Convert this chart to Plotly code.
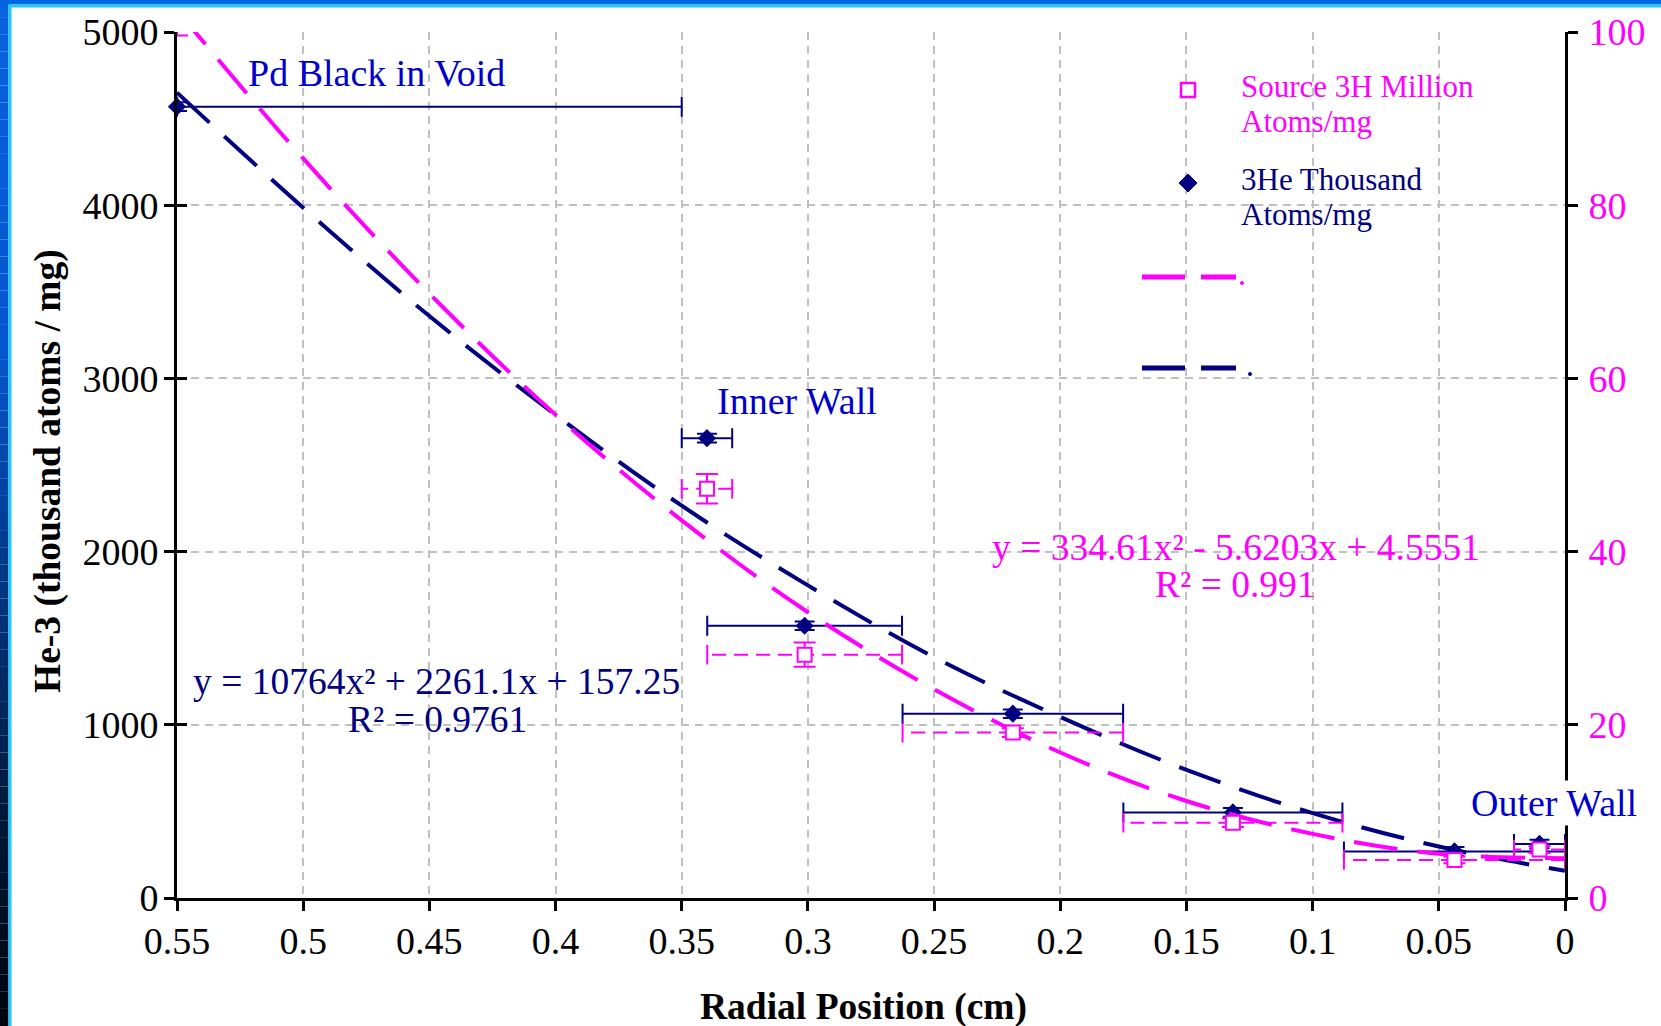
import plotly.graph_objects as go

# ---------------- data ----------------
# 3He, thousand atoms/mg (left axis)
he_x = [0.55, 0.34, 0.3013, 0.2188, 0.1316, 0.0438, 0.0101]
he_y = [4569, 2655, 1572, 1064, 494, 269, 312]
he_y_err = [25, 25, 25, 25, 25, 25, 25]
# horizontal extent of each sampling bin (same for both series)
bin_err_plus = [0.0, 0.0100, 0.0386, 0.0437, 0.0434, 0.0438, 0.0101]
bin_err_minus = [0.20, 0.0100, 0.0386, 0.0437, 0.0434, 0.0438, 0.0101]

# Source 3H, million atoms/mg (right axis)
h3_x = [0.55, 0.34, 0.3013, 0.2188, 0.1316, 0.0438, 0.0101]
h3_y = [101.3, 47.25, 28.1, 19.1, 8.7, 4.4, 5.6]
h3_y_err = [1.7, 1.7, 1.4, 0.5, 0.5, 0.4, 0.4]

# polynomial trend lines as drawn
trend_x = [0.55, 0.50, 0.45, 0.40, 0.35, 0.30, 0.25, 0.20, 0.15, 0.10, 0.05, 0.0]
he_trend = [4650, 3985, 3360, 2790, 2265, 1805, 1390, 1045, 740, 490, 297, 157]
h3_trend = [102.5, 85.4, 69.8, 55.8, 43.6, 33.0, 24.1, 16.8, 11.2, 7.4, 5.1, 4.6]

x_ticks = [0.55, 0.5, 0.45, 0.4, 0.35, 0.3, 0.25, 0.2, 0.15, 0.1, 0.05, 0]
x_tick_labels = ["0.55", "0.5", "0.45", "0.4", "0.35", "0.3", "0.25", "0.2", "0.15", "0.1", "0.05", "0"]
y_left_ticks = [0, 1000, 2000, 3000, 4000, 5000]
y_right_ticks = [0, 20, 40, 60, 80, 100]

he_eq = "y = 10764x² + 2261.1x + 157.25"
he_r2 = "R² = 0.9761"
h3_eq = "y = 334.61x² - 5.6203x + 4.5551"
h3_r2 = "R² = 0.991"

# ---------------- style ----------------
MAG = "#FF00FF"
NAVY = "#000080"
BLUE = "#0000CC"
GRID = "#C0C0C0"
FONT = "Liberation Serif, Times New Roman, serif"
W, H = 1661, 1026
L, R, T, B = 177, 1565, 32, 898
TICK_SIZE = 38


def px(x):
    return (x - L) / (R - L)


def py(y):
    return (B - y) / (B - T)


fig = go.Figure()

# trend lines
fig.add_trace(go.Scatter(x=trend_x, y=he_trend, mode="lines", line_shape="spline",
                         line=dict(color=NAVY, width=4, dash="44px,20px"),
                         yaxis="y", showlegend=False, hoverinfo="skip"))
fig.add_trace(go.Scatter(x=trend_x, y=h3_trend, mode="lines", line_shape="spline",
                         line=dict(color=MAG, width=4, dash="44px,20px"),
                         yaxis="y2", showlegend=False, hoverinfo="skip"))

# 3He points
fig.add_trace(go.Scatter(
    x=he_x, y=he_y, mode="markers", yaxis="y", cliponaxis=False,
    marker=dict(symbol="diamond", size=14, color=NAVY),
    error_x=dict(type="data", array=bin_err_plus, arrayminus=bin_err_minus, symmetric=False,
                 color=NAVY, thickness=2, width=10),
    error_y=dict(type="data", array=he_y_err, color=NAVY, thickness=2, width=10),
    name="3He Thousand Atoms/mg", showlegend=False))

# Source 3H: dashed horizontal bin bars
bx, by = [], []
for xv, yv, ep, em in zip(h3_x, h3_y, bin_err_plus, bin_err_minus):
    bx += [xv - em, xv + ep, None]
    by += [yv, yv, None]
fig.add_trace(go.Scatter(x=bx, y=by, mode="lines", yaxis="y2",
                         line=dict(color=MAG, width=2, dash="14px,8px"),
                         showlegend=False, hoverinfo="skip"))
cx, cy = [], []
for xv, yv, ep, em in zip(h3_x, h3_y, bin_err_plus, bin_err_minus):
    cx += [xv - em, xv + ep]
    cy += [yv, yv]
fig.add_trace(go.Scatter(x=cx, y=cy, mode="markers", yaxis="y2", cliponaxis=False,
                         marker=dict(symbol="line-ns", size=14, line=dict(color=MAG, width=2)),
                         showlegend=False, hoverinfo="skip"))
fig.add_trace(go.Scatter(
    x=h3_x, y=h3_y, mode="markers", yaxis="y2",
    marker=dict(symbol="square", size=14, color="white", line=dict(color=MAG, width=2)),
    error_y=dict(type="data", array=h3_y_err, color=MAG, thickness=2, width=11),
    name="Source 3H Million Atoms/mg", showlegend=False))

# dummy for inner tick axis
fig.add_trace(go.Scatter(x=[he_x[0]], y=[he_y[0]], yaxis="y3", mode="markers",
                         marker=dict(opacity=0), showlegend=False, hoverinfo="skip"))

shapes = []
# ----- frame decoration (blue bars) -----
def hexmix(c1, c2, t):
    a = [int(c1[i:i + 2], 16) for i in (1, 3, 5)]
    b = [int(c2[i:i + 2], 16) for i in (1, 3, 5)]
    return "#%02x%02x%02x" % tuple(round(a[k] + (b[k] - a[k]) * t) for k in range(3))

stops = [(0, "#0a62de"), (350, "#0656cc"), (600, "#00347e"), (820, "#001838"), (1026, "#00040c")]
n = 60
for i in range(n):
    y0 = H * i / n
    y1 = H * (i + 1) / n
    ym = (y0 + y1) / 2
    for (sa, ca), (sb, cb) in zip(stops[:-1], stops[1:]):
        if sa <= ym <= sb:
            col = hexmix(ca, cb, (ym - sa) / (sb - sa))
            break
    shapes.append(dict(type="rect", xref="paper", yref="paper", x0=px(0), x1=px(8.5),
                       y0=py(y1), y1=py(y0), fillcolor=col, line=dict(width=0), layer="above"))
shapes.append(dict(type="rect", xref="paper", yref="paper", x0=px(8.5), x1=px(11.5),
                   y0=py(H), y1=py(0), fillcolor="#1ec8ff", line=dict(width=0), layer="above"))
shapes.append(dict(type="rect", xref="paper", yref="paper", x0=px(0), x1=px(W),
                   y0=py(4.5), y1=py(0), fillcolor="#0064e0", line=dict(width=0), layer="above"))
shapes.append(dict(type="rect", xref="paper", yref="paper", x0=px(8.5), x1=px(W),
                   y0=py(7.5), y1=py(4.5), fillcolor="#1ec8ff", line=dict(width=0), layer="above"))

# ----- legend (drawn manually) -----
shapes.append(dict(type="rect", xref="paper", yref="paper", x0=px(1121), x1=px(1492),
                   y0=py(432), y1=py(53), fillcolor="white", line=dict(width=0), layer="between"))
shapes.append(dict(type="rect", xref="paper", yref="paper", x0=px(1181), x1=px(1195),
                   y0=py(97), y1=py(83), fillcolor="white", line=dict(color=MAG, width=2.5), layer="above"))
d = 9
shapes.append(dict(type="path", xref="paper", yref="paper",
                   path="M%f,%f L%f,%f L%f,%f L%f,%f Z" % (px(1188 - d), py(183), px(1188), py(183 - d),
                                                             px(1188 + d), py(183), px(1188), py(183 + d)),
                   fillcolor=NAVY, line=dict(color=NAVY, width=1), layer="above"))
for yy, col, dotx in [(277, MAG, 1242), (368, NAVY, 1250)]:
    shapes.append(dict(type="line", xref="paper", yref="paper", x0=px(1142), x1=px(1236),
                       y0=py(yy), y1=py(yy), line=dict(color=col, width=5, dash="43px,16px"), layer="above"))
    shapes.append(dict(type="circle", xref="paper", yref="paper", x0=px(dotx - 2), x1=px(dotx + 2),
                       y0=py(yy + 8), y1=py(yy + 4), fillcolor=col, line=dict(width=0), layer="above"))

ann = []
def text(s, x, y, color, size=36, xanchor="center", **kw):
    ann.append(dict(text=s, x=px(x), y=py(y), xref="paper", yref="paper", showarrow=False,
                    xanchor=xanchor, yanchor="middle", font=dict(family=FONT, size=size, color=color), **kw))

text("Source 3H Million", 1239, 86, MAG, 31, "left")
text("Atoms/mg", 1239, 121, MAG, 31, "left")
text("3He Thousand", 1239, 179, NAVY, 31, "left")
text("Atoms/mg", 1239, 214, NAVY, 31, "left")

text("Pd Black in Void", 246, 73, BLUE, 38, "left")
text("Inner Wall", 715, 401, BLUE, 38, "left")
text("Outer Wall", 1469, 803, BLUE, 38, "left", bgcolor="white", borderpad=1)
text(he_eq, 436, 681, NAVY, 37.5)
text(he_r2, 437, 719, NAVY, 37.5)
text(h3_eq, 1235.5, 547, MAG, 37.5)
text(h3_r2, 1235.5, 584, MAG, 37.5)

text("<b>He-3 (thousand atoms / mg)</b>", 48, 471, "black", 37.5, textangle=-90)
text("<b>Radial Position (cm)</b>", 863, 1007, "black", 37.5)

axis_common = dict(showline=True, linecolor="black", linewidth=3, ticks="outside", ticklen=10,
                   tickwidth=2.5, tickcolor="black", zeroline=False,
                   tickfont=dict(family=FONT, size=TICK_SIZE, color="black"))

fig.update_layout(
    width=W, height=H,
    margin=dict(l=L, r=W - R, t=T, b=H - B, pad=0),
    paper_bgcolor="white", plot_bgcolor="white",
    showlegend=False,
    xaxis=dict(range=[0.55, 0], tickvals=x_ticks, ticktext=x_tick_labels,
               showgrid=True, gridcolor=GRID, gridwidth=2, griddash="8px,6px",
               ticklabelstandoff=-3, **axis_common),
    yaxis=dict(range=[0, 5000], tickvals=y_left_ticks, side="left",
               showgrid=True, gridcolor=GRID, gridwidth=2, griddash="8px,6px",
               ticklabelstandoff=-2, **axis_common),
    yaxis2=dict(range=[0, 100], tickvals=y_right_ticks, overlaying="y", side="right", anchor="x",
                showgrid=False, showline=True, linecolor="black", linewidth=3, ticks="outside",
                ticklen=10, tickwidth=2.5, tickcolor="black", zeroline=False, ticklabelstandoff=3,
                tickfont=dict(family=FONT, size=TICK_SIZE, color=MAG)),
    yaxis3=dict(range=[0, 5000], tickvals=y_left_ticks, overlaying="y", side="left", anchor="x",
                showgrid=False, showline=False, ticks="inside", ticklen=10, tickwidth=2.5,
                tickcolor="black", showticklabels=False, zeroline=False),
    shapes=shapes, annotations=ann,
)

fig.write_html("out.html", config={"displayModeBar": False},
               post_script="document.body.style.margin='0';document.body.style.overflow='hidden';")
